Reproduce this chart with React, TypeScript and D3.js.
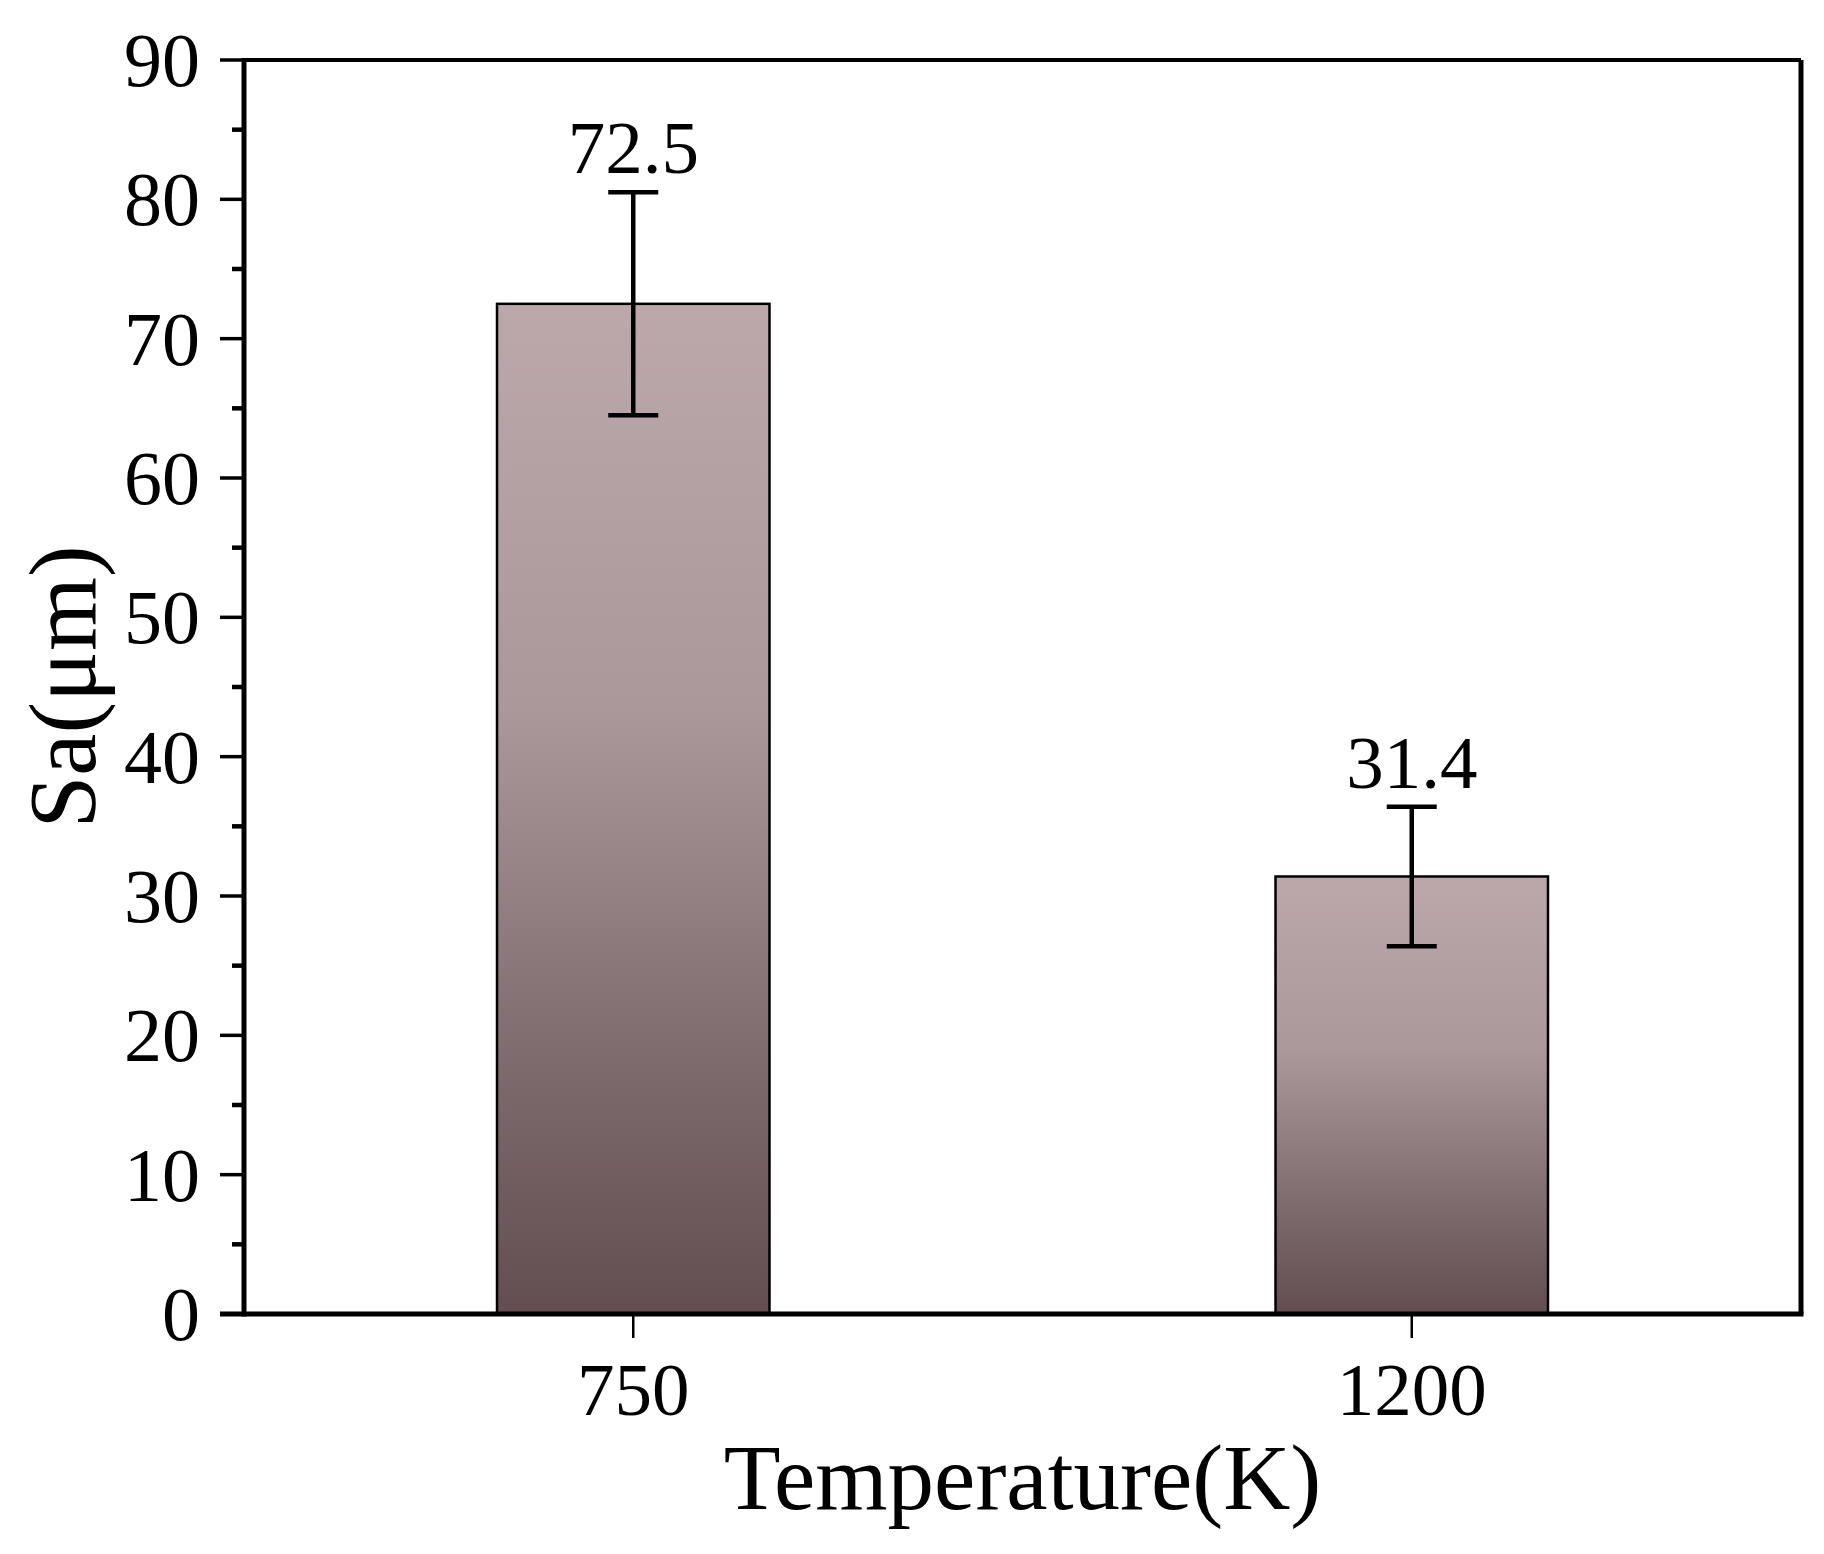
import React from 'react';
import * as d3 from 'd3';

const temperatures = ['750', '1200'];
const sa = [72.5, 31.4];
const saErr = [8, 5];
const yTicks = [0, 10, 20, 30, 40, 50, 60, 70, 80, 90];
const yMinorTicks = [5, 15, 25, 35, 45, 55, 65, 75, 85];

const W = 1824;
const H = 1554;
const margin = { left: 244, right: 23, top: 60, bottom: 240 };
const font = '"Liberation Serif", "Times New Roman", serif';

export default function App() {
    const x0 = margin.left;
    const x1 = W - margin.right;
    const y0 = H - margin.bottom;
    const y1 = margin.top;

    const xScale = d3.scalePoint<string>().domain(temperatures).range([x0, x1]).padding(0.5);
    const yScale = d3.scaleLinear().domain([0, 90]).range([y0, y1]);
    const barW = xScale.step() * 0.35;
    const capW = 50;

    return (
        <div style={{ position: 'absolute', left: 0, top: 0 }}>
            <svg width={W} height={H} style={{ display: 'block', background: '#fff' }}>
                <defs>
                    <linearGradient id="barFill" x1="0" y1="0" x2="0" y2="1">
                        <stop offset="0" stopColor="#bca8ab" />
                        <stop offset="0.4" stopColor="#aa989b" />
                        <stop offset="0.75" stopColor="#7d6b6d" />
                        <stop offset="1" stopColor="#634d51" />
                    </linearGradient>
                </defs>

                {/* bars */}
                {temperatures.map((t, i) => (
                    <rect
                        key={'bar' + t}
                        x={xScale(t)! - barW / 2}
                        y={yScale(sa[i])}
                        width={barW}
                        height={y0 - yScale(sa[i])}
                        fill="url(#barFill)"
                        stroke="#000"
                        strokeWidth={2.5}
                    />
                ))}

                {/* error bars */}
                {temperatures.map((t, i) => {
                    const cx = xScale(t)!;
                    const top = yScale(sa[i] + saErr[i]);
                    const bot = yScale(sa[i] - saErr[i]);
                    return (
                        <g key={'err' + t} stroke="#000" strokeWidth={4.5}>
                            <line x1={cx} x2={cx} y1={top} y2={bot} />
                            <line x1={cx - capW / 2} x2={cx + capW / 2} y1={top} y2={top} />
                            <line x1={cx - capW / 2} x2={cx + capW / 2} y1={bot} y2={bot} />
                        </g>
                    );
                })}

                {/* value labels */}
                {temperatures.map((t, i) => (
                    <text
                        key={'val' + t}
                        x={xScale(t)}
                        y={yScale(sa[i] + saErr[i]) - 19}
                        textAnchor="middle"
                        fontFamily={font}
                        fontSize={75}
                    >
                        {sa[i].toFixed(1)}
                    </text>
                ))}

                {/* frame */}
                <line x1={x0} x2={x1} y1={y1} y2={y1} stroke="#000" strokeWidth={4} />
                <line x1={x1} x2={x1} y1={y1} y2={y0} stroke="#000" strokeWidth={5} />
                <line x1={x0} x2={x0} y1={y1 - 2} y2={y0 + 2.5} stroke="#000" strokeWidth={5} />
                <line x1={x0 - 24} x2={x1 + 2.5} y1={y0} y2={y0} stroke="#000" strokeWidth={5} />

                {/* y ticks */}
                {yTicks.map((v) => (
                    <g key={'yt' + v}>
                        <line x1={x0 - 24} x2={x0} y1={yScale(v)} y2={yScale(v)} stroke="#000" strokeWidth={3.5} />
                        <text
                            x={x0 - 44}
                            y={yScale(v)}
                            dy="0.34em"
                            textAnchor="end"
                            fontFamily={font}
                            fontSize={76}
                        >
                            {v}
                        </text>
                    </g>
                ))}
                {yMinorTicks.map((v) => (
                    <line key={'ym' + v} x1={x0 - 12} x2={x0} y1={yScale(v)} y2={yScale(v)} stroke="#000" strokeWidth={4.5} />
                ))}

                {/* x ticks */}
                {temperatures.map((t) => (
                    <g key={'xt' + t}>
                        <line x1={xScale(t)} x2={xScale(t)} y1={y0} y2={y0 + 24} stroke="#000" strokeWidth={2.5} />
                        <text x={xScale(t)} y={1415} textAnchor="middle" fontFamily={font} fontSize={75}>
                            {t}
                        </text>
                    </g>
                ))}

                {/* axis titles */}
                <text x={(x0 + x1) / 2} y={1509} textAnchor="middle" fontFamily={font} fontSize={93}>
                    Temperature(K)
                </text>
                <text
                    transform={`translate(95, ${(y0 + y1) / 2}) rotate(-90)`}
                    textAnchor="middle"
                    fontFamily={font}
                    fontSize={95}
                >
                    Sa(μm)
                </text>
            </svg>
        </div>
    );
}
